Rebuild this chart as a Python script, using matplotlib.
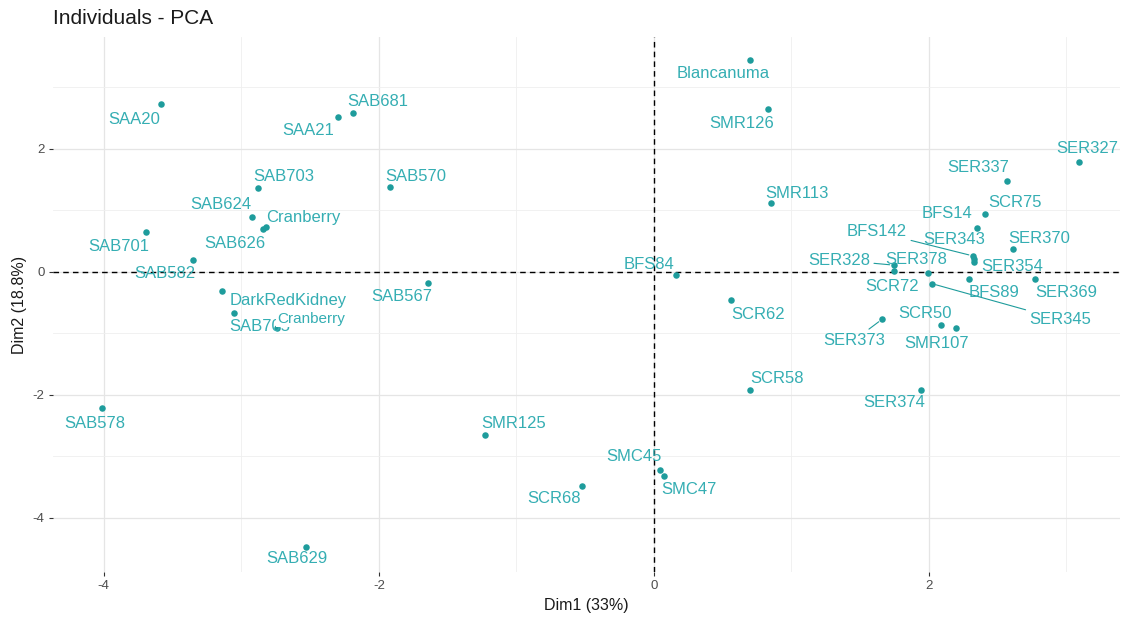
import matplotlib
matplotlib.use("Agg")
import matplotlib.pyplot as plt
from matplotlib.ticker import MultipleLocator

plt.rcParams['font.family'] = ['Liberation Sans', 'DejaVu Sans']
plt.rcParams['axes.unicode_minus'] = False

# PCA individual coordinates
names = ["SAA20", "SAB681", "SAA21", "SAB703", "SAB570", "SAB624", "Cranberry",
         "SAB626", "SAB701", "SAB582", "DarkRedKidney", "SAB705", "Cranberry",
         "SAB567", "SAB578", "SMR125", "SAB629", "SCR68", "SMC45", "SMC47",
         "BFS84", "Blancanuma", "SMR126", "SMR113", "SCR62", "SCR58",
         "SER327", "SER337", "SCR75", "BFS14", "BFS142", "SER343", "SER354",
         "SER370", "SER328", "SER378", "SCR72", "SER345", "BFS89", "SER369",
         "SER373", "SCR50", "SMR107", "SER374"]
dim1 = [-3.585, -2.19, -2.30, -2.88, -1.92, -2.92, -2.82,
        -2.84, -3.69, -3.35, -3.14, -3.05, -2.74,
        -1.64, -4.01, -1.23, -2.53, -0.52, 0.044, 0.073,
        0.16, 0.70, 0.83, 0.85, 0.56, 0.70,
        3.09, 2.57, 2.405, 2.35, 2.32, 2.325, 2.33,
        2.61, 1.745, 1.99, 1.748, 2.02, 2.29, 2.77,
        1.66, 2.09, 2.20, 1.94]
dim2 = [2.73, 2.585, 2.52, 1.37, 1.38, 0.89, 0.73,
        0.70, 0.65, 0.20, -0.31, -0.67, -0.91,
        -0.18, -2.21, -2.65, -4.47, -3.48, -3.22, -3.32,
        -0.05, 3.45, 2.65, 1.12, -0.455, -1.92,
        1.79, 1.48, 0.94, 0.72, 0.26, 0.21, 0.16,
        0.37, 0.11, -0.02, 0.015, -0.19, -0.11, -0.11,
        -0.77, -0.87, -0.91, -1.92]

# label placement (pixel offsets: right, down) and which labels get a leader segment
label_offsets = [(-27, 15), (25, -11), (-29, 14), (26, -11), (26, -11), (-31, -13), (37, -10),
                 (-28, 15), (-28, 15), (-28, 14), (66, 10), (25, 13), (34, -9),
                 (-27, 14), (-8, 16), (29, -11), (-9, 12), (-28, 13), (-26, -13), (25, 13),
                 (-27, -10), (-27, 14), (-26, 15), (26, -10), (27, 15), (27, -11),
                 (9, -13), (-29, -13), (30, -12), (-30, -14), (-96, -24), (-19, -19), (38, 4),
                 (26, -11), (-55, -5), (-11, -14), (-2, 16), (129, 36), (25, 14), (32, 14),
                 (-28, 21), (-16, -12), (-20, 16), (-26, 13)]
leader = {30, 34, 37, 40}

point_col = "#1E9C9C"
text_col = "#35AEB3"

fig = plt.figure(figsize=(11.26, 6.21), dpi=100)
ax = fig.add_axes([0.047, 0.079, 0.9477, 0.8614])

ax.set_xlim(-4.37, 3.39)
ax.set_ylim(-4.88, 3.82)

ax.axhline(0, color="black", lw=1.0, ls=(0, (4, 3)), zorder=1)
ax.axvline(0, color="black", lw=1.0, ls=(0, (4, 3)), zorder=1)

ax.scatter(dim1, dim2, s=22, color=point_col, zorder=3, linewidths=0)

for i, (n, x, y) in enumerate(zip(names, dim1, dim2)):
    dx, dy = label_offsets[i]
    kw = dict(xy=(x, y), xytext=(dx, -dy), textcoords="offset pixels",
              ha="center", va="center", color=text_col, fontsize=12, zorder=4)
    if i in leader:
        kw["arrowprops"] = dict(arrowstyle="-", color=point_col, lw=0.8,
                                shrinkA=1, shrinkB=3)
    if i == 12:
        kw["fontsize"] = 11
        kw["zorder"] = 5
        kw["bbox"] = dict(boxstyle="square,pad=0.05", fc="white", ec="none")
    ax.annotate(n, **kw)

ax.xaxis.set_major_locator(MultipleLocator(2))
ax.xaxis.set_minor_locator(MultipleLocator(1))
ax.yaxis.set_major_locator(MultipleLocator(2))
ax.yaxis.set_minor_locator(MultipleLocator(1))
ax.grid(which="major", color="#E5E5E5", lw=0.9, zorder=0)
ax.grid(which="minor", color="#EFEFEF", lw=0.6, zorder=0)
ax.set_axisbelow(True)
for s in ax.spines.values():
    s.set_visible(False)
ax.tick_params(which="major", length=3, color="#333333", labelcolor="#4D4D4D",
               labelsize=9.5, pad=3)
ax.tick_params(which="minor", length=0)

ax.set_xlabel("Dim1 (33%)", fontsize=11.5, color="#1A1A1A", labelpad=4)
ax.set_ylabel("Dim2 (18.8%)", fontsize=11.5, color="#1A1A1A", labelpad=4)
fig.text(0.047, 0.971, "Individuals - PCA", fontsize=15, ha="left", va="center",
         color="#1A1A1A")

fig.savefig("out.png", dpi=100, facecolor="white")
